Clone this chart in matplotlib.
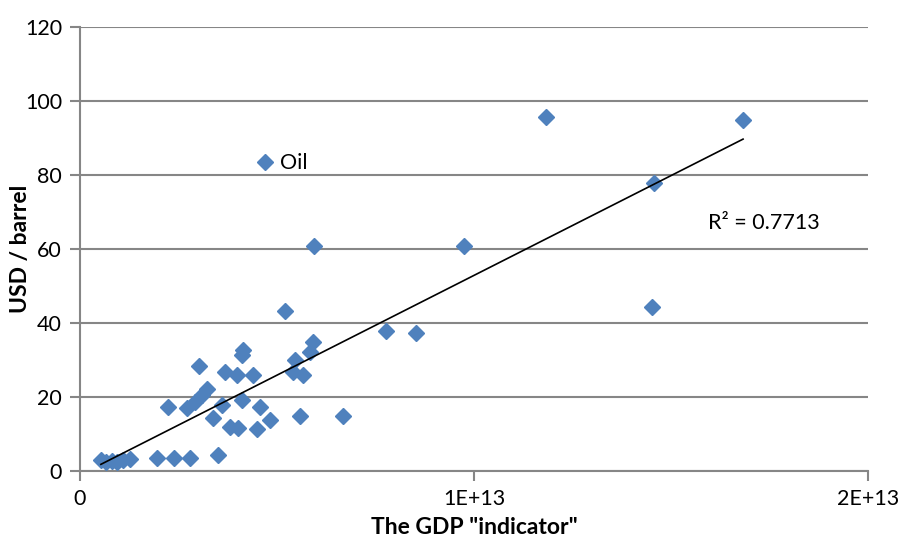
import numpy as np
import matplotlib
matplotlib.use("Agg")
import matplotlib.pyplot as plt

plt.rcParams['font.family'] = ['Lato', 'DejaVu Sans']

# GDP "indicator" (units of 1E+12) and oil price in USD / barrel
gdp = [0.53, 0.66, 0.81, 0.94, 1.09, 1.27, 1.95, 2.39, 2.79, 3.50,
       2.23, 2.72, 2.92, 3.10, 3.22, 3.02, 3.38, 3.60, 3.68, 3.98,
       4.39, 4.14, 4.11, 4.11, 4.57, 3.81, 4.01, 4.49, 4.82, 5.20,
       5.91, 5.84, 5.46, 5.41, 5.66, 5.58, 6.68, 5.94, 7.77, 8.53,
       9.75, 11.83, 14.57, 14.52, 16.83]
price = [2.97, 2.43, 2.70, 2.43, 2.97, 3.24, 3.5, 3.5, 3.5, 4.2,
         17.3, 17.0, 18.6, 20.5, 22.2, 28.4, 14.3, 17.8, 26.8, 26.0,
         26.0, 32.7, 31.4, 19.2, 17.3, 11.9, 11.6, 11.4, 13.8, 43.2,
         34.9, 32.2, 30.0, 26.8, 26.0, 14.9, 14.9, 60.8, 37.8, 37.3,
         60.8, 95.7, 77.8, 44.3, 94.9]
r2_label = "R² = 0.7713"

x = np.array(gdp) * 1e12
y = np.array(price)

fig = plt.figure(figsize=(9.06, 5.41), dpi=100)
ax = fig.add_axes([0.0883, 0.1294, 0.8697, 0.8206])

grid_col = '#868686'
ax.set_ylim(0, 120)
ax.set_xlim(0, 2e13)
ax.set_yticks(range(0, 121, 20))
ax.set_xticks([0, 1e13, 2e13])
ax.set_xticklabels(['0', '1E+13', '2E+13'])
ax.yaxis.grid(True, color=grid_col, linewidth=1.5)
ax.set_axisbelow(True)

for side in ['top', 'right']:
    ax.spines[side].set_visible(False)
for side in ['left', 'bottom']:
    ax.spines[side].set_color(grid_col)
    ax.spines[side].set_linewidth(1.5)
ax.tick_params(axis='both', colors=grid_col, width=1.5, length=7,
               labelcolor='black', labelsize=15.5, pad=6)

ax.plot(x, y, linestyle='none', marker='D', markersize=8.5,
        color='#4F81BD', label='Oil', zorder=3)

# linear trendline
k, b = np.polyfit(x, y, 1)
xs = np.array([x.min(), x.max()])
ax.plot(xs, k * xs + b, color='black', linewidth=1.2, zorder=4)

ax.text(15.94e12, 67, r2_label, fontsize=15.5, va='center', ha='left')

leg = ax.legend(loc='upper left', bbox_to_anchor=(0.208, 0.74),
                frameon=False, fontsize=15.5, handletextpad=0.2,
                handlelength=1.0, borderpad=0)

ax.set_xlabel('The GDP "indicator"', fontsize=16.5, fontweight='bold', labelpad=6)
ax.set_ylabel('USD / barrel', fontsize=16.5, fontweight='bold')
ax.yaxis.set_label_coords(-0.062, 0.5)

fig.savefig('out.png', dpi=100)
